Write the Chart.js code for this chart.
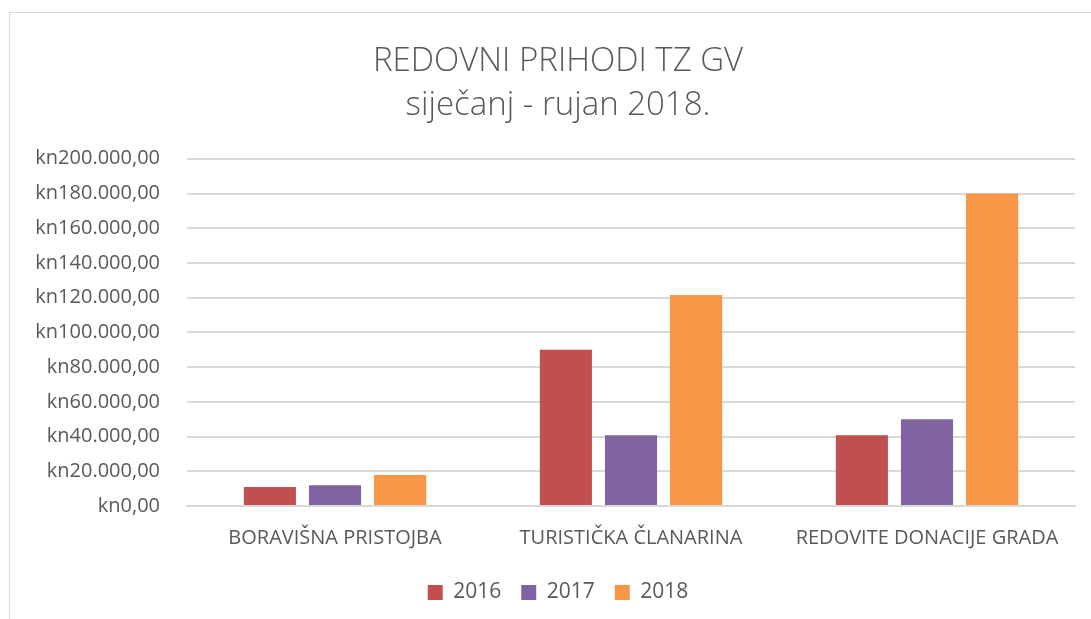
<!DOCTYPE html>
<html>
<head>
<meta charset="utf-8">
<script src="https://cdn.jsdelivr.net/npm/chart.js@4"></script>
<style>
  body { margin: 0; background: #fff; overflow: hidden; }
  #frame { position: absolute; left: 9px; top: 12px; width: 1100px; height: 620px; border: 1px solid #d9d9d9; }
  #prihodiChart { position: absolute; left: 0; top: 0; }
</style>
</head>
<body>
<div id="frame"></div>
<canvas id="prihodiChart" width="1091" height="619"></canvas>
<script>
const categories = ["BORAVIŠNA PRISTOJBA", "TURISTIČKA ČLANARINA", "REDOVITE DONACIJE GRADA"];
const years = ["2016", "2017", "2018"];
const values2016 = [11000, 90000, 40700];
const values2017 = [12000, 40700, 50000];
const values2018 = [17800, 121500, 180000];
const colors = ["#C0504D", "#8064A2", "#F79646"];

const textColor = "#595959";
const fontFamily = "'Open Sans', sans-serif";

function formatKn(v) {
  const parts = Math.round(v).toString().replace(/\B(?=(\d{3})+(?!\d))/g, ".");
  return "kn" + parts + ",00";
}

const ctx = document.getElementById("prihodiChart").getContext("2d");

new Chart(ctx, {
  type: "bar",
  data: {
    labels: categories,
    datasets: [values2016, values2017, values2018].map((vals, i) => ({
      label: years[i],
      data: vals,
      backgroundColor: colors[i],
      categoryPercentage: 0.66,
      barPercentage: 0.8,
      yAxisID: "y",
    }))
  },
  options: {
    responsive: false,
    animation: false,
    layout: { padding: { left: 25, right: 0, top: 40, bottom: 6 } },
    plugins: {
      title: {
        display: true,
        text: ["REDOVNI PRIHODI TZ GV", "siječanj - rujan 2018."],
        color: textColor,
        font: { family: fontFamily, size: 33, weight: "300", lineHeight: 1.33 },
        padding: { top: 0, bottom: 31 }
      },
      legend: {
        position: "bottom",
        labels: {
          color: textColor,
          font: { family: fontFamily, size: 21 },
          boxWidth: 15,
          boxHeight: 15,
          padding: 20
        }
      },
      tooltip: { enabled: false }
    },
    scales: {
      x: {
        grid: { display: false },
        border: { color: "#d9d9d9", width: 2 },
        ticks: {
          color: textColor,
          font: { family: fontFamily, size: 20 },
          padding: 12,
          maxRotation: 0
        }
      },
      y: {
        min: 0,
        max: 200000,
        border: { display: false },
        grid: { color: "#d9d9d9", lineWidth: 2, drawTicks: false },
        ticks: {
          stepSize: 20000,
          color: textColor,
          font: { family: fontFamily, size: 20 },
          padding: 27,
          callback: v => formatKn(v)
        },
        afterFit: scale => { scale.width = 162; }
      },
      // empty right-hand axis: just keeps a gap so title/legend stay centred on the frame
      spacer: {
        position: "right",
        grid: { display: false },
        border: { display: false },
        ticks: { display: false },
        afterFit: scale => { scale.width = 16; }
      }
    }
  }
});
</script>
</body>
</html>
